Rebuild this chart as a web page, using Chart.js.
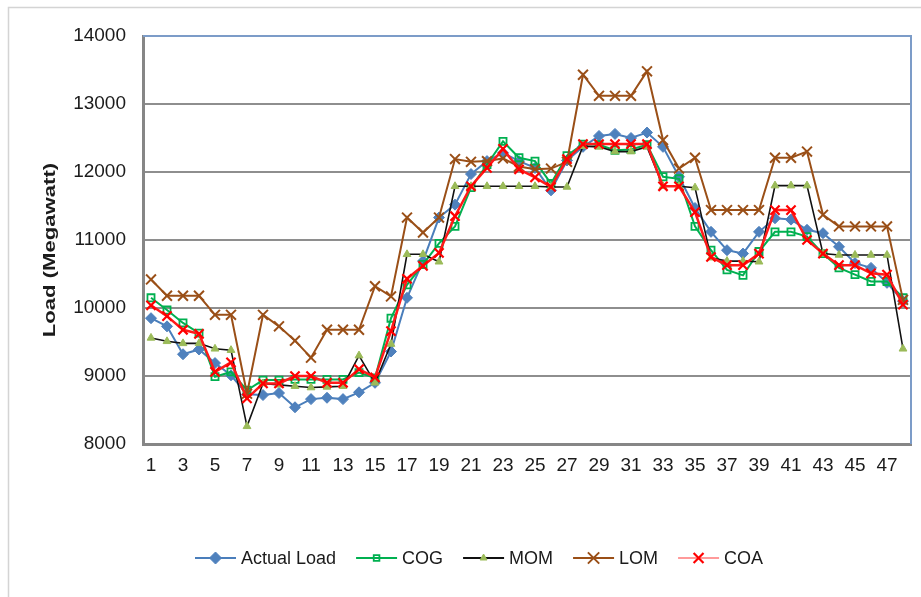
<!DOCTYPE html>
<html>
<head>
<meta charset="utf-8">
<script src="https://cdn.jsdelivr.net/npm/chart.js@4.4.1/dist/chart.umd.min.js"></script>
<style>
  html, body { margin: 0; padding: 0; background: #ffffff; }
  #wrap { width: 921px; height: 597px; }
</style>
</head>
<body>
<div id="wrap"><canvas id="c" width="921" height="597"></canvas></div>
<script>
const categories = ['1','2','3','4','5','6','7','8','9','10','11','12','13','14','15','16','17','18','19','20','21','22','23','24','25','26','27','28','29','30','31','32','33','34','35','36','37','38','39','40','41','42','43','44','45','46','47','48'];
const xTickLabels = ['1','3','5','7','9','11','13','15','17','19','21','23','25','27','29','31','33','35','37','39','41','43','45','47'];
const yTicks = [8000, 9000, 10000, 11000, 12000, 13000, 14000];

const actualLoad = [9850,9730,9320,9390,9190,9010,8730,8720,8750,8540,8660,8680,8660,8760,8900,9360,10150,10690,11330,11520,11970,12160,12280,12160,12060,11730,12170,12370,12530,12560,12500,12580,12370,11930,11470,11120,10850,10800,11120,11320,11300,11150,11100,10900,10660,10590,10370,10100];
const cog = [10150,9970,9780,9630,8990,9060,8790,8940,8940,8950,8950,8950,8950,9050,8970,9850,10340,10640,10950,11200,11770,12110,12450,12210,12160,11830,12240,12410,12400,12320,12330,12400,11930,11900,11200,10850,10560,10480,10830,11120,11120,11050,10800,10590,10490,10390,10390,10150];
const mom = [9560,9510,9480,9480,9400,9380,8260,8890,8870,8850,8830,8840,8850,9300,8900,9470,10790,10790,10680,11790,11790,11790,11790,11790,11790,11780,11780,12380,12370,12300,12300,12370,11790,11790,11770,10740,10690,10690,10680,11800,11800,11800,10800,10780,10780,10780,10780,9400];
const lom = [10420,10180,10180,10180,9900,9900,8740,9900,9730,9520,9270,9680,9680,9680,10320,10170,11330,11110,11330,12190,12150,12160,12200,12080,12040,12050,12150,13430,13120,13120,13120,13480,12470,12050,12210,11440,11440,11440,11440,12210,12210,12300,11370,11200,11200,11200,11200,10120];
const coa = [10040,9880,9680,9620,9060,9200,8670,8890,8890,9000,9000,8900,8900,9100,8980,9660,10430,10620,10810,11350,11790,12060,12340,12040,11920,11780,12190,12410,12410,12410,12410,12410,11790,11790,11410,10750,10630,10630,10800,11440,11440,11000,10800,10630,10630,10510,10490,10050];

const seriesNames = ['Actual Load', 'COG', 'MOM', 'LOM', 'COA'];
const yTitle = 'Load (Megawatt)';

const FONT = "'Liberation Sans', Arial, sans-serif";
const TEXT = '#1b1b1b';

const frameAndLegend = {
  id: 'frameAndLegend',
  beforeDraw(chart) {
    const ctx = chart.ctx;
    ctx.save();
    ctx.strokeStyle = '#d4d4d4';
    ctx.lineWidth = 1.5;
    ctx.strokeRect(8.5, 7.5, 940, 640);
    ctx.restore();
  },
  afterDatasetsDraw(chart) {
    const ctx = chart.ctx;
    const a = chart.chartArea;
    ctx.save();
    ctx.strokeStyle = '#7c9cc8';
    ctx.lineWidth = 2;
    ctx.beginPath();
    ctx.moveTo(a.left, a.top);
    ctx.lineTo(a.right, a.top);
    ctx.lineTo(a.right, a.bottom);
    ctx.stroke();
    ctx.restore();
  },
  afterDraw(chart) {
    const ctx = chart.ctx;
    // y-axis title
    ctx.save();
    ctx.translate(50, 250);
    ctx.rotate(-Math.PI / 2);
    ctx.scale(1.3, 1);
    ctx.font = "bold 17px 'Liberation Sans', Arial, sans-serif";
    ctx.fillStyle = TEXT;
    ctx.textAlign = 'center';
    ctx.textBaseline = 'middle';
    ctx.fillText(yTitle, 0, 0);
    ctx.restore();

    // legend (line + marker + label)
    ctx.save();
    ctx.font = '18px ' + FONT;
    ctx.textBaseline = 'middle';
    ctx.textAlign = 'left';
    const y = 558;
    let x = 195;
    chart.data.datasets.forEach((ds) => {
      const lineLen = 41;
      ctx.strokeStyle = ds.legendLineColor || ds.borderColor;
      ctx.lineWidth = 2;
      ctx.beginPath();
      ctx.moveTo(x, y);
      ctx.lineTo(x + lineLen, y);
      ctx.stroke();
      ctx.fillStyle = ds.pointBackgroundColor;
      ctx.strokeStyle = ds.pointBorderColor;
      ctx.lineWidth = ds.pointBorderWidth;
      Chart.helpers.drawPoint(ctx, {
        pointStyle: ds.pointStyle,
        radius: ds.legendRadius,
        borderWidth: ds.pointBorderWidth,
        rotation: 0
      }, x + lineLen / 2, y);
      ctx.fillStyle = TEXT;
      ctx.fillText(ds.label, x + lineLen + 5, y + 1);
      x += lineLen + 5 + ctx.measureText(ds.label).width + 20;
    });
    ctx.restore();
  }
};

new Chart(document.getElementById('c'), {
  type: 'line',
  data: {
    labels: categories,
    datasets: [
      {
        label: seriesNames[0], data: actualLoad, order: 5,
        borderColor: '#4a7ebb', borderWidth: 2,
        pointStyle: 'rectRot', pointRadius: 5.5, legendRadius: 6,
        pointBackgroundColor: '#4f81bd', pointBorderColor: '#4f81bd', pointBorderWidth: 1
      },
      {
        label: seriesNames[1], data: cog, order: 4,
        borderColor: '#00b050', borderWidth: 2,
        pointStyle: 'rect', pointRadius: 5, legendRadius: 4,
        pointBackgroundColor: 'rgba(255,255,255,0)', pointBorderColor: '#00b050', pointBorderWidth: 1.8
      },
      {
        label: seriesNames[2], data: mom, order: 3,
        borderColor: '#111111', borderWidth: 1.6,
        pointStyle: 'triangle', pointRadius: 4.5, legendRadius: 4,
        pointBackgroundColor: '#9bbb59', pointBorderColor: '#9bbb59', pointBorderWidth: 1
      },
      {
        label: seriesNames[3], data: lom, order: 2,
        borderColor: '#9a4f17', borderWidth: 2,
        pointStyle: 'crossRot', pointRadius: 7, legendRadius: 8,
        pointBackgroundColor: '#9a4f17', pointBorderColor: '#9a4f17', pointBorderWidth: 2
      },
      {
        label: seriesNames[4], data: coa, order: 1,
        borderColor: '#ff1a1a', borderWidth: 2.5, legendLineColor: '#ff9a9a',
        pointStyle: 'crossRot', pointRadius: 6.5, legendRadius: 7,
        pointBackgroundColor: '#ff0000', pointBorderColor: '#ff0000', pointBorderWidth: 2.2
      }
    ]
  },
  options: {
    responsive: false,
    animation: false,
    devicePixelRatio: 1,
    layout: { padding: { top: 36, right: 10, bottom: 111, left: 0 } },
    elements: { line: { tension: 0 } },
    plugins: {
      legend: { display: false },
      tooltip: { enabled: false },
      title: { display: false }
    },
    scales: {
      x: {
        type: 'category',
        offset: true,
        afterFit(scale) { scale.height = 42; },
        grid: { display: false, drawTicks: false },
        border: { display: true, color: '#868686', width: 3 },
        ticks: {
          autoSkip: false, maxRotation: 0, minRotation: 0, padding: 10,
          color: TEXT, font: { family: FONT, size: 19 },
          callback(value, index) {
            const lbl = categories[index];
            return xTickLabels.includes(lbl) ? lbl : '';
          }
        }
      },
      y: {
        min: yTicks[0], max: yTicks[yTicks.length - 1],
        afterFit(scale) { scale.width = 143; },
        afterBuildTicks(scale) { scale.ticks = yTicks.map(v => ({ value: v })); },
        grid: { color: '#8e8e8e', lineWidth: 2, drawTicks: false },
        border: { display: true, color: '#868686', width: 3 },
        ticks: {
          padding: 17, color: TEXT, font: { family: FONT, size: 19 },
          callback(v) { return String(v); }
        }
      }
    }
  },
  plugins: [frameAndLegend]
});
</script>
</body>
</html>
